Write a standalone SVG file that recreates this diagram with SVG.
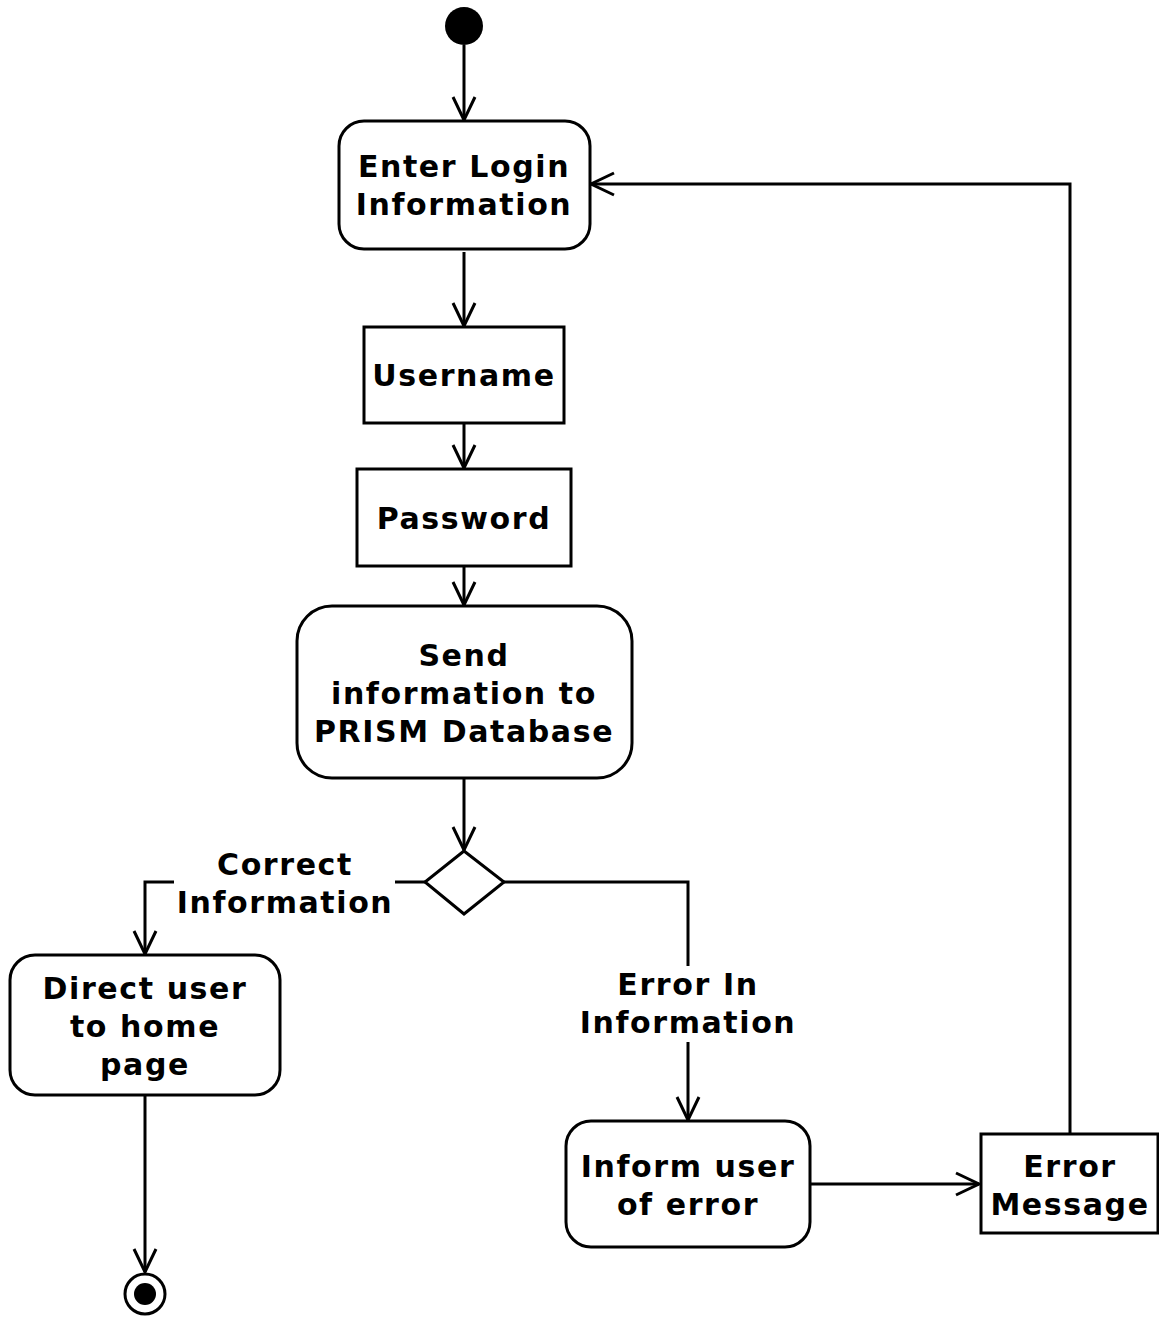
<svg xmlns="http://www.w3.org/2000/svg" width="1159" height="1317" viewBox="0 0 1159 1317">
<style>
.n{fill:#fff;stroke:#000;stroke-width:3}
.t{font-family:"DejaVu Sans",sans-serif;font-weight:bold;font-size:30px;letter-spacing:1.6px;text-anchor:middle;fill:#000}
.c{fill:none;stroke:#000;stroke-width:3}
</style>
<defs>
<marker id="a" markerWidth="30" markerHeight="30" refX="24" refY="12" orient="auto" markerUnits="userSpaceOnUse" viewBox="0 0 30 24">
<path d="M1,1 L24,12 L1,23" fill="none" stroke="#000" stroke-width="3"/>
</marker>
</defs>
<rect width="1159" height="1317" fill="#fff"/>
<g id="connectors">
<path class="c" d="M464,45 V120" marker-end="url(#a)"/>
<path class="c" d="M464,252 V326" marker-end="url(#a)"/>
<path class="c" d="M464,423 V468" marker-end="url(#a)"/>
<path class="c" d="M464,566 V605" marker-end="url(#a)"/>
<path class="c" d="M464,778 V850" marker-end="url(#a)"/>
<path class="c" d="M425,882 H145 V954" marker-end="url(#a)"/>
<path class="c" d="M504,882 H688 V1120" marker-end="url(#a)"/>
<path class="c" d="M145,1095 V1272" marker-end="url(#a)"/>
<path class="c" d="M810,1184 H979" marker-end="url(#a)"/>
<path class="c" d="M1070,1134 V184 H591" marker-end="url(#a)"/>
<rect x="174" y="846" width="221" height="76" fill="#fff"/>
<text class="t" x="285" y="875">Correct</text>
<text class="t" x="285" y="913">Information</text>
<rect x="577" y="966" width="222" height="76" fill="#fff"/>
<text class="t" x="688" y="995">Error In</text>
<text class="t" x="688" y="1033">Information</text>
</g>
<g id="start"><circle cx="464" cy="26" r="19" fill="#000"/></g>
<g id="enter"><rect class="n" x="339" y="121" width="251" height="128" rx="25"/>
<text class="t" x="464" y="177">Enter Login</text><text class="t" x="464" y="215">Information</text></g>
<g id="username"><rect class="n" x="364" y="327" width="200" height="96"/>
<text class="t" x="464" y="386">Username</text></g>
<g id="password"><rect class="n" x="357" y="469" width="214" height="97"/>
<text class="t" x="464" y="529">Password</text></g>
<g id="send"><rect class="n" x="297" y="606" width="335" height="172" rx="35"/>
<text class="t" x="464" y="666">Send</text><text class="t" x="464" y="704">information to</text><text class="t" x="464" y="742">PRISM Database</text></g>
<g id="decision"><path class="n" d="M464,851 L504,882 L464,914 L425,882 Z"/></g>
<g id="direct"><rect class="n" x="10" y="955" width="270" height="140" rx="25"/>
<text class="t" x="145" y="999">Direct user</text><text class="t" x="145" y="1037">to home</text><text class="t" x="145" y="1075">page</text></g>
<g id="inform"><rect class="n" x="566" y="1121" width="244" height="126" rx="25"/>
<text class="t" x="688" y="1177">Inform user</text><text class="t" x="688" y="1215">of error</text></g>
<g id="errmsg"><rect class="n" x="981" y="1134" width="177" height="99"/>
<text class="t" x="1070" y="1177">Error</text><text class="t" x="1070" y="1215">Message</text></g>
<g id="end"><circle cx="145" cy="1294" r="20" fill="#fff" stroke="#000" stroke-width="3"/><circle cx="145" cy="1294" r="11" fill="#000"/></g>
</svg>
